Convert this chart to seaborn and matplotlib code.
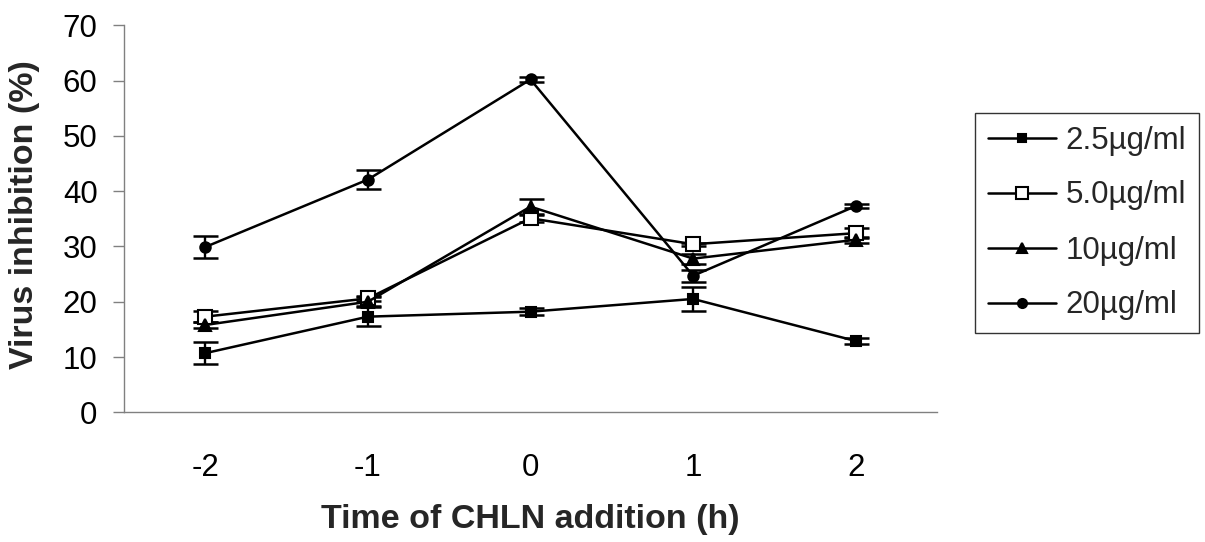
import matplotlib
matplotlib.use("Agg")
import matplotlib.pyplot as plt
import seaborn as sns
import pandas as pd

# ---- data ----
times = [-2, -1, 0, 1, 2]
tick_labels = ["-2", "-1", "0", "1", "2"]
series_names = ["2.5µg/ml", "5.0µg/ml", "10µg/ml", "20µg/ml"]
vals_2_5 = [10.7, 17.3, 18.2, 20.5, 12.9]
err_2_5 = [2.0, 1.7, 0.6, 2.1, 0.5]
vals_5_0 = [17.3, 20.6, 35.1, 30.4, 32.4]
err_5_0 = [1.0, 0.5, 0.6, 0.3, 0.9]
vals_10 = [15.8, 20.0, 37.2, 27.8, 31.2]
err_10 = [0.6, 0.8, 1.3, 0.9, 0.5]
vals_20 = [29.9, 42.1, 60.2, 24.7, 37.3]
err_20 = [2.05, 1.65, 0.4, 1.1, 0.4]

sns.set_theme(style="white")
plt.rcParams["font.family"] = ["Liberation Sans", "DejaVu Sans"]

fig = plt.figure(figsize=(12.05, 5.42), dpi=100)
ax = fig.add_axes([124 / 1205, 1 - 412.3 / 542, (937 - 124) / 1205, (412.3 - 25.3) / 542])

styles = [
    dict(marker="s", markerfacecolor="black", markersize=7),
    dict(marker="s", markerfacecolor="white", markersize=10.5),
    dict(marker="^", markerfacecolor="black", markersize=9),
    dict(marker="o", markerfacecolor="black", markersize=7.5),
]
all_vals = [vals_2_5, vals_5_0, vals_10, vals_20]
all_errs = [err_2_5, err_5_0, err_10, err_20]

for name, v, e, st in zip(series_names, all_vals, all_errs, styles):
    df = pd.DataFrame({"time": times, "value": v})
    ax.errorbar(df["time"], df["value"], yerr=e, fmt="none", ecolor="black",
                elinewidth=1.7, capsize=9, capthick=1.8, zorder=2)
    sns.lineplot(data=df, x="time", y="value", ax=ax, color="black",
                 linewidth=1.8, markeredgecolor="black", markeredgewidth=1.5,
                 label=name, zorder=3, **st)

ax.set_xlim(-2.5, 2.5)
ax.set_ylim(0, 70)
ax.set_xticks(times)
ax.set_xticklabels(tick_labels)
ax.set_yticks(range(0, 71, 10))

for s in ["top", "right"]:
    ax.spines[s].set_visible(False)
for s in ["left", "bottom"]:
    ax.spines[s].set_color("#808080")
    ax.spines[s].set_linewidth(1.0)

ax.tick_params(axis="x", length=0, pad=29, labelsize=22.5, colors="black")
ax.tick_params(axis="y", left=True, length=8, width=1.0, direction="out",
               color="#808080", pad=11, labelsize=22.5, labelcolor="black")

ax.set_xlabel("Time of CHLN addition (h)", fontsize=24.5, fontweight="bold", va="center")
ax.xaxis.set_label_coords(0.5, -0.276)
ax.set_ylabel("Virus inhibition (%)", fontsize=24.5, fontweight="bold", va="center")
ax.yaxis.set_label_coords(-0.123, 0.512)

leg = ax.legend(loc="upper left", bbox_to_anchor=(975 / 1205, 1 - 113 / 542),
                bbox_transform=fig.transFigure, borderaxespad=0, frameon=True,
                fancybox=False, edgecolor="black", fontsize=22.5,
                handlelength=2.2, handletextpad=0.3, borderpad=0.4,
                labelspacing=0.8)
leg.get_frame().set_linewidth(1.0)
small = [6, 8.5, 7.5, 6.5]
for h, ms in zip(leg.legend_handles, small):
    h.set_markersize(ms)

fig.savefig("out.png", dpi=100)
